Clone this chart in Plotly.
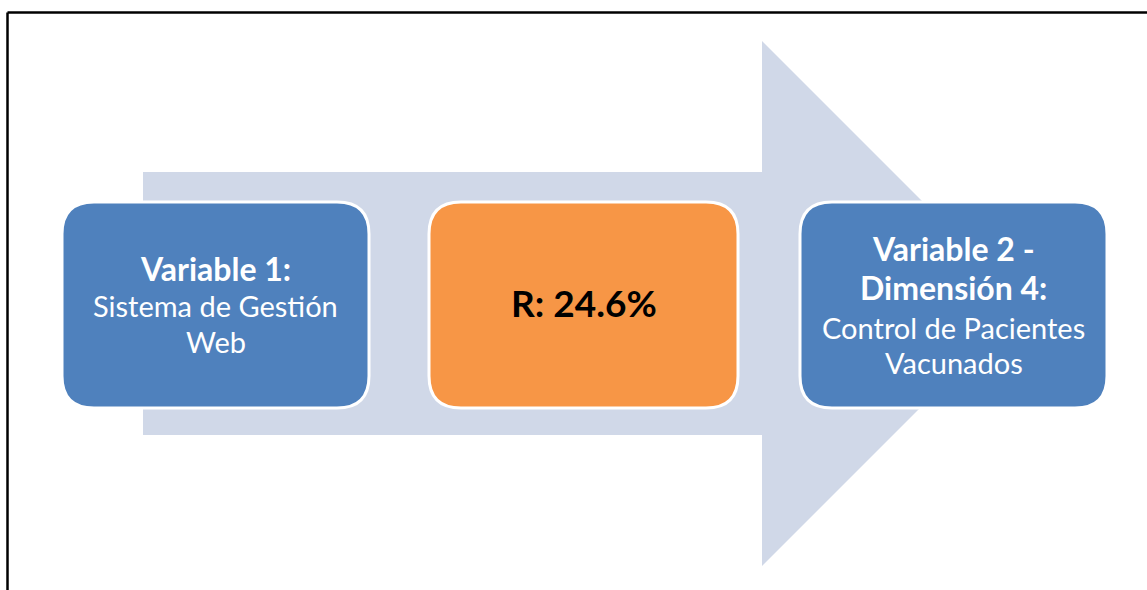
import plotly.graph_objects as go

# Diagram content
box_titles = ["Variable 1:", "R: 24.6%", "Variable 2 -<br>Dimensión 4:"]
box_subtitles = ["Sistema de Gestión<br>Web", "", "Control de Pacientes<br>Vacunados"]
box_fills = ["#4F81BD", "#F79646", "#4F81BD"]
box_text_colors = ["white", "black", "white"]

# Geometry (pixels)
W, H = 1147, 590
boxes_x = [(62, 369), (429, 738), (800, 1107)]
box_y = (202, 408)
radius = 32
FONT = "Lato, Carlito, Calibri, sans-serif"

fig = go.Figure()

# Background arrow
arrow = "M 143 172 L 762 172 L 762 41 L 1024.5 303.5 L 762 566 L 762 435 L 143 435 Z"
fig.add_shape(type="path", path=arrow, fillcolor="#D0D8E8", line=dict(width=0), layer="below")


def rrect(x0, y0, x1, y1, r):
    return (f"M {x0+r} {y0} L {x1-r} {y0} Q {x1} {y0} {x1} {y0+r} "
            f"L {x1} {y1-r} Q {x1} {y1} {x1-r} {y1} "
            f"L {x0+r} {y1} Q {x0} {y1} {x0} {y1-r} "
            f"L {x0} {y0+r} Q {x0} {y0} {x0+r} {y0} Z")


for (x0, x1), fill in zip(boxes_x, box_fills):
    fig.add_shape(type="path", path=rrect(x0, box_y[0], x1, box_y[1], radius),
                  fillcolor=fill, line=dict(color="white", width=3))

cx = [(a + b) / 2 for a, b in boxes_x]
BOLD_SIZE, REG_SIZE, BIG_SIZE = 32, 29, 37

# Left box
fig.add_annotation(x=cx[0], y=268, text=f"<b>{box_titles[0]}</b>", showarrow=False,
                   font=dict(family=FONT, size=BOLD_SIZE, color=box_text_colors[0]))
for i, t in enumerate(box_subtitles[0].split("<br>")):
    fig.add_annotation(x=cx[0], y=305 + 36 * i, text=t, showarrow=False,
                       font=dict(family=FONT, size=REG_SIZE, color=box_text_colors[0]))

# Middle box
fig.add_annotation(x=cx[1], y=302, text=f"<b>{box_titles[1]}</b>", showarrow=False,
                   font=dict(family=FONT, size=BIG_SIZE, color=box_text_colors[1]))

# Right box
for i, t in enumerate(box_titles[2].split("<br>")):
    fig.add_annotation(x=cx[2], y=248 + 39 * i, text=f"<b>{t}</b>", showarrow=False,
                       font=dict(family=FONT, size=BOLD_SIZE, color=box_text_colors[2]))
for i, t in enumerate(box_subtitles[2].split("<br>")):
    fig.add_annotation(x=cx[2], y=327 + 35 * i, text=t, showarrow=False,
                       font=dict(family=FONT, size=REG_SIZE, color=box_text_colors[2]))

# Frame border (top and left)
fig.add_shape(type="line", x0=7.5, y0=12.5, x1=W + 5, y1=12.5, line=dict(color="black", width=2.5))
fig.add_shape(type="line", x0=7.5, y0=12.5, x1=7.5, y1=H + 5, line=dict(color="black", width=2.5))

fig.update_xaxes(range=[0, W], visible=False, fixedrange=True)
fig.update_yaxes(range=[H, 0], visible=False, fixedrange=True)
fig.update_layout(width=W, height=H, margin=dict(l=0, r=0, t=0, b=0),
                  paper_bgcolor="white", plot_bgcolor="white", showlegend=False)

fig.write_html("out.html", config={"displayModeBar": False},
               post_script="document.body.style.margin='0';document.body.style.overflow='hidden';")
